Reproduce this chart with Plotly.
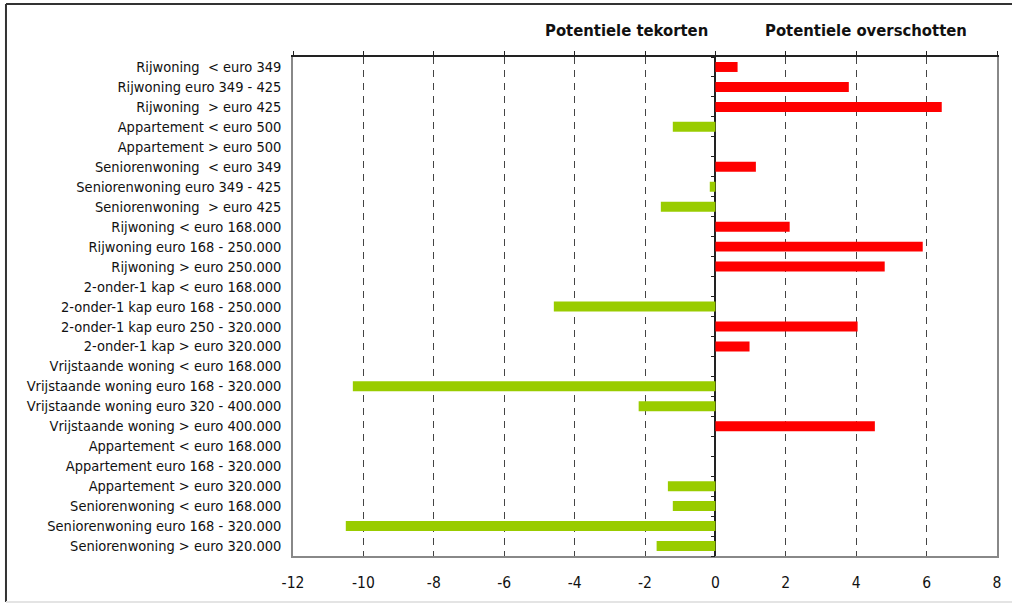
import plotly.graph_objects as go

categories = [
    "Rijwoning  < euro 349",
    "Rijwoning euro 349 - 425",
    "Rijwoning  > euro 425",
    "Appartement < euro 500",
    "Appartement > euro 500",
    "Seniorenwoning  < euro 349",
    "Seniorenwoning euro 349 - 425",
    "Seniorenwoning  > euro 425",
    "Rijwoning < euro 168.000",
    "Rijwoning euro 168 - 250.000",
    "Rijwoning > euro 250.000",
    "2-onder-1 kap < euro 168.000",
    "2-onder-1 kap euro 168 - 250.000",
    "2-onder-1 kap euro 250 - 320.000",
    "2-onder-1 kap > euro 320.000",
    "Vrijstaande woning < euro 168.000",
    "Vrijstaande woning euro 168 - 320.000",
    "Vrijstaande woning euro 320 - 400.000",
    "Vrijstaande woning > euro 400.000",
    "Appartement < euro 168.000",
    "Appartement euro 168 - 320.000",
    "Appartement > euro 320.000",
    "Seniorenwoning < euro 168.000",
    "Seniorenwoning euro 168 - 320.000",
    "Seniorenwoning > euro 320.000",
]
values = [0.63, 3.79, 6.43, -1.21, 0.0, 1.15, -0.16, -1.55, 2.11, 5.89, 4.81, 0.0,
          -4.59, 4.04, 0.97, 0.0, -10.3, -2.18, 4.53, 0.0, 0.0, -1.35, -1.21, -10.5, -1.67]
x_ticks = [-12, -10, -8, -6, -4, -2, 0, 2, 4, 6, 8]
headers = ["Potentiele tekorten", "Potentiele overschotten"]

RED = "#FF0000"
GREEN = "#99CC00"
FONT = "Liberation Sans Narrow, Arial Narrow, DejaVu Sans Condensed, sans-serif"

colors = [RED if v > 0 else GREEN for v in values]

fig = go.Figure()
fig.add_trace(go.Bar(
    x=values, y=categories, orientation="h", width=0.5,
    marker=dict(color=colors, line=dict(width=0)),
    showlegend=False, hoverinfo="x+y",
))
n = len(categories)
fig.add_trace(go.Scatter(x=[x_ticks[0]], y=[0], xaxis="x2", yaxis="y2",
                         mode="markers", marker=dict(opacity=0), showlegend=False, hoverinfo="skip"))

x0, x1 = x_ticks[0], x_ticks[-1]
zero_pos = (0 - x0) / (x1 - x0)

fig.update_layout(
    width=1012, height=604,
    margin=dict(l=293, r=15, t=57, b=48),
    paper_bgcolor="white", plot_bgcolor="white",
    font=dict(family=FONT, size=14.5, color="#111"),
    bargap=0.5,
    xaxis=dict(
        range=[x0, x1], tickvals=x_ticks, ticktext=[str(t) for t in x_ticks],
        showgrid=True, gridcolor="#444", griddash="7px,6px", gridwidth=1,
        zeroline=True, zerolinecolor="#222", zerolinewidth=1.5,
        showline=True, linecolor="#888", linewidth=1.5, mirror=True,
        ticks="", ticklabelstandoff=12,
        tickfont=dict(family=FONT, size=15.5, color="#111"),
    ),
    xaxis2=dict(
        range=[x0, x1], tickvals=x_ticks, overlaying="x", side="top",
        showticklabels=False, ticks="outside", ticklen=4, tickcolor="#222",
        showline=True, linecolor="#222", linewidth=2, showgrid=False, zeroline=False,
    ),
    yaxis=dict(
        autorange="reversed", showgrid=False,
        showline=True, linecolor="#888", linewidth=1.5, mirror=True,
        ticks="", ticklabelstandoff=7,
        tickfont=dict(family=FONT, size=14.5, color="#111"),
    ),
    yaxis2=dict(
        range=[n - 0.5, -0.5], overlaying="y", anchor="free", position=zero_pos,
        tickvals=[i + 0.5 for i in range(-1, n)], showticklabels=False,
        ticks="outside", ticklen=4, tickcolor="#222",
        showline=False, showgrid=False, zeroline=False,
    ),
)

for text, px in zip(headers, [0.4744, 0.814]):
    fig.add_annotation(text="<b>" + text + "</b>", xref="paper", yref="paper",
                       x=px, y=1.054, xanchor="center", yanchor="middle", showarrow=False,
                       font=dict(family=FONT, size=16.5, color="#111"))

# outer frame
fig.add_shape(type="line", xref="paper", yref="paper", x0=-0.4077, x1=-0.4077, y0=-0.092, y1=1.106,
              line=dict(color="#333", width=2))
fig.add_shape(type="line", xref="paper", yref="paper", x0=-0.4077, x1=1.03, y0=1.106, y1=1.106,
              line=dict(color="#333", width=2))
fig.add_shape(type="line", xref="paper", yref="paper", x0=-0.4077, x1=1.03, y0=-0.092, y1=-0.092,
              line=dict(color="#e4e4e4", width=2))

fig.write_html("out.html", config={"displayModeBar": False},
               post_script="document.body.style.margin='0';")
